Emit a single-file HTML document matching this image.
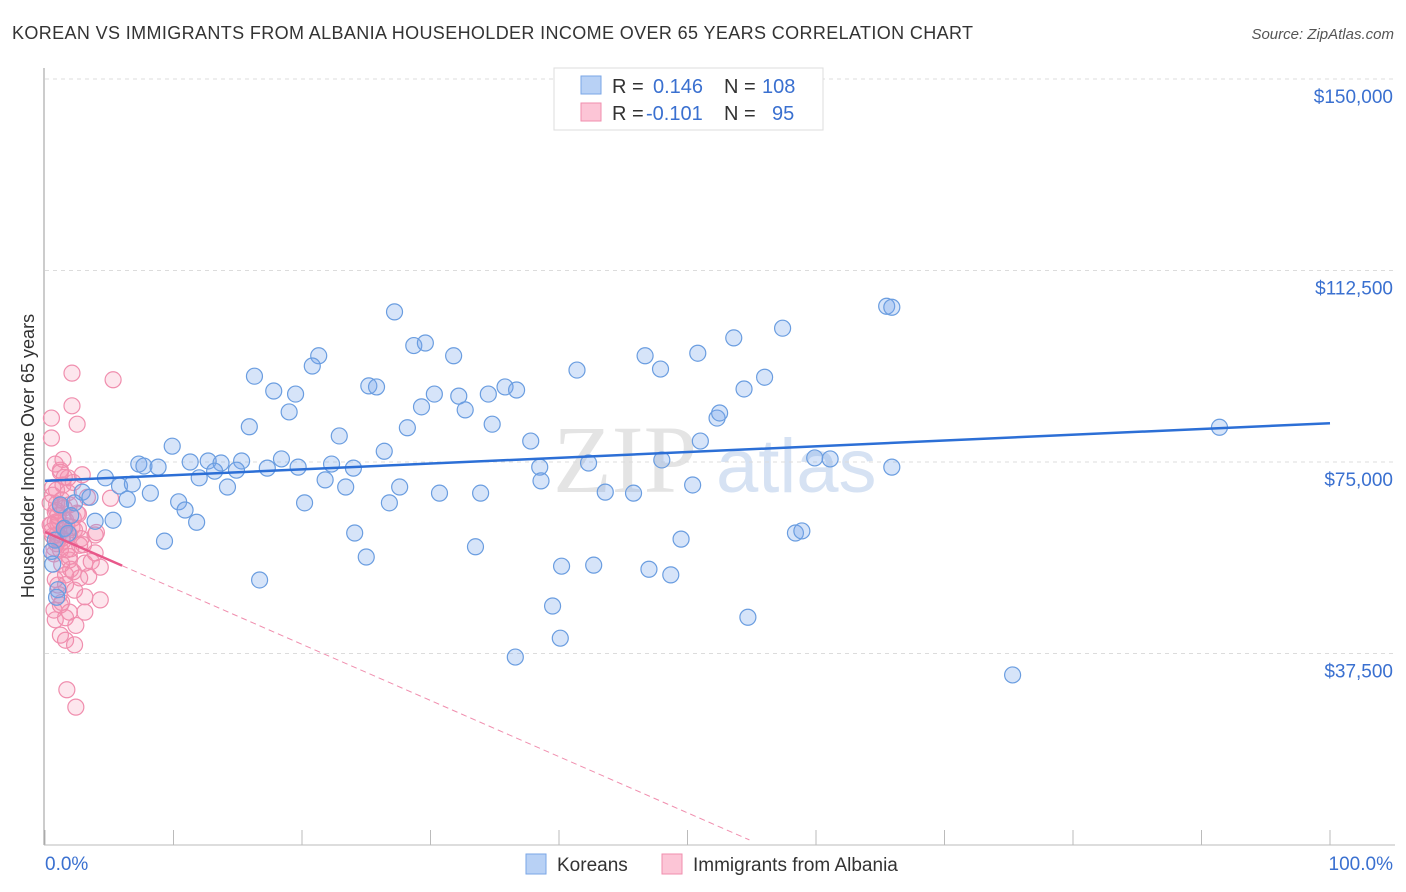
<!DOCTYPE html>
<html><head><meta charset="utf-8"><style>
body{margin:0;background:#fff;font-family:"Liberation Sans",sans-serif;}
#w{position:relative;width:1406px;height:892px;overflow:hidden}
</style></head><body><div id="w">
<svg id="s" width="1406" height="892" xmlns="http://www.w3.org/2000/svg">
<text x="12" y="39" font-size="18" fill="#333" textLength="961">KOREAN VS IMMIGRANTS FROM ALBANIA HOUSEHOLDER INCOME OVER 65 YEARS CORRELATION CHART</text>
<text x="1394" y="39" font-size="15" fill="#555" text-anchor="end" font-style="italic">Source: ZipAtlas.com</text>
<text transform="translate(34,456) rotate(-90)" font-size="18" fill="#333" text-anchor="middle">Householder Income Over 65 years</text>
<text x="553" y="492" font-size="96" fill="#e4e4e4" font-family="Liberation Serif,serif">ZIP</text>
<text x="716" y="492" font-size="76" fill="#d6e2f3">atlas</text>
<g id="grid"></g><g id="pts"></g><g id="lines"></g>
<g>
<rect x="554" y="68" width="269" height="62" fill="#fff" stroke="#ddd"/>
<rect x="581" y="76" width="20" height="18" fill="#b8d1f5" stroke="#7aa6e6"/>
<rect x="581" y="103" width="20" height="18" fill="#fcc5d6" stroke="#f08eae"/>
<text x="612" y="93" font-size="20" fill="#333">R = <tspan fill="#3a70d0" x="653">0.146</tspan><tspan x="724" fill="#333">N =</tspan><tspan x="762" fill="#3a70d0">108</tspan></text>
<text x="612" y="120" font-size="20" fill="#333">R = <tspan fill="#3a70d0" x="646">-0.101</tspan><tspan x="724" fill="#333">N =</tspan><tspan x="772" fill="#3a70d0">95</tspan></text>
</g>
<g>
<rect x="526" y="854" width="20" height="20" fill="#b8d1f5" stroke="#7aa6e6"/>
<text x="557" y="871" font-size="19" fill="#333">Koreans</text>
<rect x="662" y="854" width="20" height="20" fill="#fcc5d6" stroke="#f08eae"/>
<text x="693" y="871" font-size="19" fill="#333">Immigrants from Albania</text>
</g>
<text x="45" y="870" font-size="19" fill="#3a70d0">0.0%</text>
<text x="1393" y="870" font-size="19" fill="#3a70d0" text-anchor="end">100.0%</text>
</svg></div>
<script>
const yTicks=[150000,112500,75000,37500];
const yTickLabels=["$150,000","$112,500","$75,000","$37,500"];
const koreaX=[27.2,65.5,65.9,57.4,53.6,28.7,29.6,21.3,20.8,31.8,46.7,50.8,41.4,47.9,16.3,25.2,25.8,35.8,36.7,54.4,56.0,17.8,19.5,30.3,32.2,34.5,29.3,32.7,19.0,52.3,52.5,15.9,28.2,34.8,91.4,22.9,37.8,51.0,9.9,26.4,42.3,48.0,59.9,61.1,65.9,7.3,7.7,8.8,11.3,12.7,15.3,13.7,13.2,14.9,17.3,18.4,19.7,22.3,24.0,12.0,14.2,21.8,23.4,27.6,38.5,38.6,4.7,5.8,6.8,2.9,3.5,2.3,6.4,8.2,10.4,10.9,20.2,26.8,30.7,33.9,43.6,45.8,50.4,3.9,5.3,11.8,9.3,24.1,33.5,49.5,58.4,58.9,25.0,16.7,40.2,42.7,47.0,48.7,39.5,40.1,54.7,36.6,75.3,1.2,0.8,1.5,0.6,2.0,1.0,0.5,1.8,0.9];
const koreaY=[104.4,105.5,105.3,101.2,99.3,97.8,98.3,95.8,93.8,95.8,95.8,96.3,93.0,93.2,91.8,89.9,89.7,89.7,89.1,89.3,91.6,88.9,88.3,88.3,87.9,88.3,85.8,85.2,84.8,83.6,84.6,81.9,81.7,82.4,81.8,80.1,79.1,79.1,78.1,77.1,74.8,75.4,75.8,75.6,74.0,74.6,74.2,74.0,75.0,75.2,75.2,74.8,73.2,73.4,73.8,75.6,74.0,74.6,73.8,71.9,70.1,71.5,70.1,70.1,74.0,71.3,71.9,70.3,70.7,69.1,68.1,67.0,67.7,68.9,67.2,65.6,67.0,67.0,68.9,68.9,69.1,68.9,70.5,63.4,63.6,63.2,59.5,61.1,58.4,59.9,61.1,61.5,56.4,51.9,54.6,54.8,54.0,52.9,46.8,40.5,44.6,36.8,33.3,66.6,59.7,62.0,55.0,64.5,50.0,57.5,61.0,48.5];
const albX=[2.1,5.3,2.1,2.5,0.5,0.5,0.8,1.2,1.8,0.9,1.3,1.9,3.3,5.1,0.8,1.6,0.4,2.3,0.9,3.9,2.7,1.2,3.9,1.9,3.1,4.3,1.6,2.7,3.4,1.0,2.3,3.1,4.3,1.2,1.9,3.1,0.8,1.6,2.3,1.2,1.7,2.4,0.7,1.3,1.7,1.0,2.2,1.8,0.6,1.4,2.0,2.6,0.9,1.5,1.1,0.5,2.8,0.7,1.9,1.3,2.2,0.8,1.6,1.0,2.5,0.6,1.4,2.9,1.2,1.8,0.4,2.1,1.5,0.9,3.6,2.0,1.1,0.7,1.6,2.4,1.3,0.5,1.9,1.0,3.0,1.7,0.8,2.6,1.2,4.0,0.6,1.5,2.2,1.4,0.9];
const albY=[92.4,91.1,86.0,82.4,83.6,79.7,74.6,73.4,71.9,69.5,67.6,66.6,68.1,67.9,65.2,63.6,62.7,61.7,60.7,60.7,58.7,57.8,57.2,55.8,55.2,54.4,52.9,52.3,52.6,50.9,49.9,48.6,48.0,47.0,45.6,45.6,44.1,40.1,39.2,41.1,30.4,27.0,58.2,60.0,62.5,63.0,64.0,61.0,60.5,59.5,58.0,62.0,65.5,66.0,63.5,61.5,60.0,57.0,56.5,55.0,53.5,52.0,51.0,64.5,65.0,68.5,70.5,72.5,73.0,69.0,67.0,62.2,61.8,59.0,55.5,54.0,49.0,46.0,44.5,43.0,47.5,62.8,60.8,59.8,58.8,57.8,63.2,64.8,66.2,61.2,70.0,72.0,71.0,75.5,66.8];
const koreaFit=[71.3,82.6];
const albFit=[61.3,-1.1];
const X=v=>45+v*12.85, Y=v=>845-v/37.5*191.5;
const NS="http://www.w3.org/2000/svg";
function mk(t,a,p){const e=document.createElementNS(NS,t);for(const k in a)e.setAttribute(k,a[k]);p.appendChild(e);return e;}
const g=document.getElementById('grid');
yTicks.forEach((t,i)=>{const y=Y(t/1000);
 const l=mk('line',{x1:45,x2:1395,y1:y,y2:y,stroke:'#dcdcdc','stroke-dasharray':'4,4'},g);
 
 
 const tx=mk('text',{x:1393,y:y+24,'font-size':19,fill:'#3a70d0','text-anchor':'end'},g);tx.textContent=yTickLabels[i];
 
 });
mk('line',{x1:44,x2:44,y1:68,y2:845,stroke:'#999'},g);
mk('line',{x1:44,x2:1395,y1:845,y2:845,stroke:'#bbb'},g);
for(let i=0;i<=10;i++){const t=mk('line',{x1:X(i*10),x2:X(i*10),y1:830,y2:845,stroke:'#bbb'},g);
 
 }
const p=document.getElementById('pts');
albX.forEach((x,i)=>{const c=mk('circle',{cx:X(x),cy:Y(albY[i]),r:8,fill:'rgba(245,140,175,0.22)',stroke:'#f08eae','stroke-width':1.2},p);
 
 });
koreaX.forEach((x,i)=>{const c=mk('circle',{cx:X(x),cy:Y(koreaY[i]),r:8,fill:'rgba(120,165,235,0.3)',stroke:'#6a9de0','stroke-width':1.2},p);
 
 });
const L=document.getElementById('lines');
const kl=mk('line',{x1:X(0),y1:Y(koreaFit[0]),x2:X(100),y2:Y(koreaFit[1]),stroke:'#2c6fd6','stroke-width':2.5},L);


const xe=(albFit[0]-1)/-albFit[1];
const ad=mk('line',{x1:X(6),y1:Y(albFit[0]+albFit[1]*6),x2:X(xe),y2:Y(albFit[0]+albFit[1]*xe),stroke:'#f08eae','stroke-width':1,'stroke-dasharray':'6,4'},L);


const al=mk('line',{x1:X(0),y1:Y(albFit[0]),x2:X(6),y2:Y(albFit[0]+albFit[1]*6),stroke:'#e8588a','stroke-width':2.5},L);


</script></body></html>
